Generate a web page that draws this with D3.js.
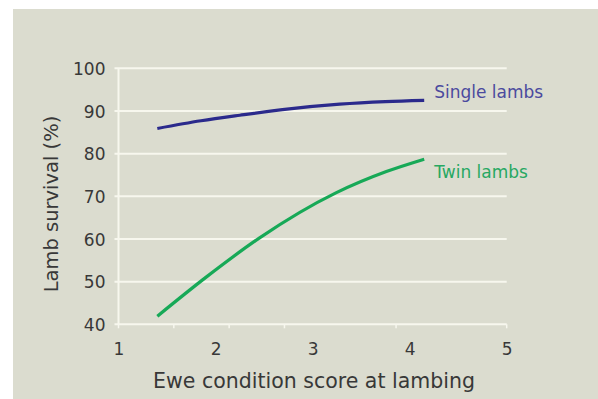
<!DOCTYPE html>
<html>
<head>
<meta charset="utf-8">
<script src="https://cdn.jsdelivr.net/npm/d3@7"></script>
<style>
  body { margin: 0; background: #fff; }
  svg { display: block; }
</style>
</head>
<body>
<div id="chart"></div>
<script>
// data
const singleLambs = [
  {score: 1.40, survival: 85.9},
  {score: 1.85, survival: 87.7},
  {score: 2.25, survival: 89.0},
  {score: 2.76, survival: 90.5},
  {score: 3.28, survival: 91.6},
  {score: 3.75, survival: 92.2},
  {score: 4.15, survival: 92.5}
];
const twinLambs = [
  {score: 1.40, survival: 41.9},
  {score: 1.90, survival: 51.0},
  {score: 2.45, survival: 60.2},
  {score: 3.24, survival: 70.8},
  {score: 3.76, survival: 75.8},
  {score: 4.15, survival: 78.7}
];
const xTicks = [1, 2, 3, 4, 5];
const xMinorTicks = [1, 1.57, 2.14, 2.71, 3.86, 5];
const yTicks = [40, 50, 60, 70, 80, 90, 100];
const seriesNames = ['Single lambs', 'Twin lambs'];

// layout
const W = 598, H = 399;
const margin = {top: 68.3, left: 118.5, right: 91.3, bottom: 74.7};
const width = W - margin.left - margin.right;
const height = H - margin.top - margin.bottom;
const blue = '#2b2a8c', green = '#17a957';
const font = 'DejaVu Sans, sans-serif';

const svg = d3.select('#chart').append('svg')
  .attr('width', W).attr('height', H);

// panel background
svg.append('rect')
  .attr('x', 13).attr('y', 9)
  .attr('width', W - 13).attr('height', H - 9)
  .attr('fill', '#dbdccf');

const g = svg.append('g')
  .attr('transform', `translate(${margin.left},${margin.top})`);

const x = d3.scaleLinear().domain([1, 5]).range([0, width]);
const y = d3.scaleLinear().domain([40, 100]).range([height, 0]);

// gridlines
g.append('g')
  .selectAll('line')
  .data(yTicks)
  .join('line')
    .attr('x1', -4).attr('x2', width)
    .attr('y1', d => y(d)).attr('y2', d => y(d))
    .attr('stroke', '#f7f7ee')
    .attr('stroke-width', 2);

// y axis line
g.append('line')
  .attr('x1', 0).attr('x2', 0)
  .attr('y1', 0).attr('y2', height)
  .attr('stroke', '#f7f7ee').attr('stroke-width', 2);

// small ticks under the x axis
g.append('g')
  .selectAll('line')
  .data(xMinorTicks)
  .join('line')
    .attr('x1', d => x(d)).attr('x2', d => x(d))
    .attr('y1', height).attr('y2', height + 4)
    .attr('stroke', '#f7f7ee').attr('stroke-width', 1.5);

// y axis labels
const yAxis = g.append('g')
  .call(d3.axisLeft(y).tickValues(yTicks).tickSize(0).tickPadding(13));
yAxis.select('.domain').remove();
yAxis.selectAll('text')
  .style('font-family', font).style('font-size', '17px')
  .attr('fill', '#383838').attr('dy', '0.36em');

// x axis labels
const xAxis = g.append('g')
  .attr('transform', `translate(0,${height})`)
  .call(d3.axisBottom(x).tickValues(xTicks).tickSize(0).tickPadding(19).tickFormat(d3.format('d')));
xAxis.select('.domain').remove();
xAxis.selectAll('text')
  .style('font-family', font).style('font-size', '17px')
  .attr('fill', '#383838');

// lines
const line = d3.line()
  .x(d => x(d.score))
  .y(d => y(d.survival))
  .curve(d3.curveMonotoneX);

[singleLambs, twinLambs].forEach((data, i) => {
  g.append('path')
    .datum(data)
    .attr('d', line)
    .attr('fill', 'none')
    .attr('stroke', i === 0 ? blue : green)
    .attr('stroke-width', 3.2)
    .attr('stroke-linecap', 'butt');
});

// series labels
g.append('text')
  .attr('x', x(4.15) + 10).attr('y', y(singleLambs[singleLambs.length - 1].survival) - 2)
  .attr('fill', '#4b4a9e')
  .style('font-family', font).style('font-size', '17px')
  .text(seriesNames[0]);
g.append('text')
  .attr('x', x(4.15) + 10).attr('y', y(twinLambs[twinLambs.length - 1].survival) + 19)
  .attr('fill', '#27a862')
  .style('font-family', font).style('font-size', '17px')
  .text(seriesNames[1]);

// axis titles
svg.append('text')
  .attr('x', 314).attr('y', 388)
  .attr('text-anchor', 'middle')
  .attr('fill', '#383838')
  .style('font-family', font).style('font-size', '20.5px')
  .text('Ewe condition score at lambing');

svg.append('text')
  .attr('transform', 'translate(58,204) rotate(-90)')
  .attr('text-anchor', 'middle')
  .attr('fill', '#383838')
  .style('font-family', font).style('font-size', '19.5px')
  .text('Lamb survival (%)');
</script>
</body>
</html>
